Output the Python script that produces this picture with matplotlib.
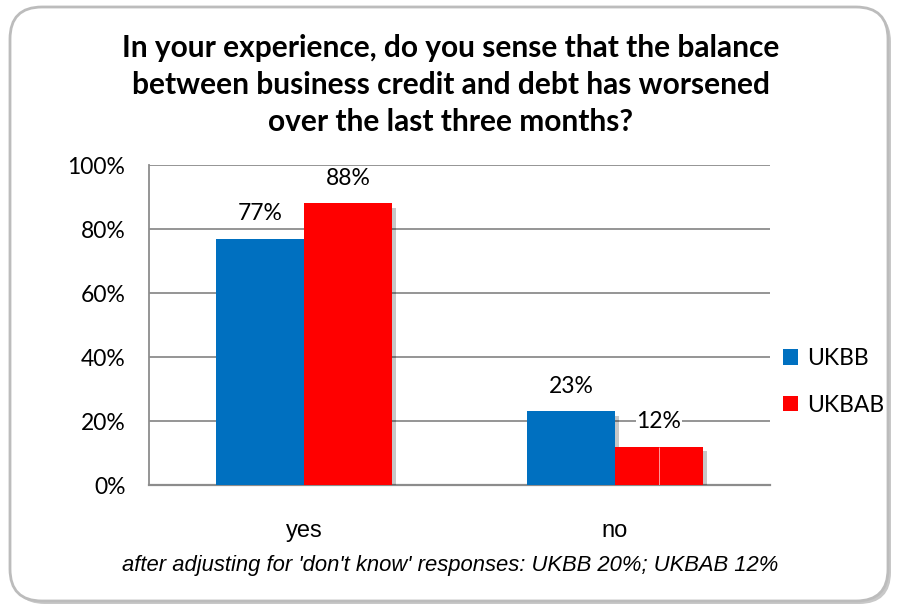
import numpy as np
import matplotlib.pyplot as plt
import matplotlib.patheffects as pe
from matplotlib.patches import FancyBboxPatch, Rectangle

categories = ['yes', 'no']
series = ['UKBB', 'UKBAB']
ukbb = [77, 23]
ukbab = [88, 12]
colors = ['#0070C0', '#FF0000']
yticks = [0, 20, 40, 60, 80, 100]

title = ("In your experience, do you sense that the balance\n"
         "between business credit and debt has worsened\n"
         "over the last three months?")
note = "after adjusting for 'don't know' responses: UKBB 20%; UKBAB 12%"

calibri = ['Lato', 'DejaVu Sans']
arial = ['Liberation Sans', 'DejaVu Sans']

W, H = 901, 610
fig = plt.figure(figsize=(W / 100, H / 100), dpi=100)

# rounded frame drawn in pixel coordinates
bg = fig.add_axes([0, 0, 1, 1])
bg.set_xlim(0, W)
bg.set_ylim(H, 0)
bg.axis('off')
bg.add_patch(FancyBboxPatch((13, 10), 878, 594, boxstyle='round,pad=0,rounding_size=32',
                            fc='#c8c8c8', ec='none'))
bg.add_patch(FancyBboxPatch((10, 7), 878, 594, boxstyle='round,pad=0,rounding_size=32',
                            fc='white', ec='#bcbcbc', lw=2))

ax = fig.add_axes([149 / W, 1 - 485 / H, (770 - 149) / W, (485 - 165) / H])
ax.set_facecolor('none')

x = np.arange(len(categories))
w = 0.283
shadow = [pe.SimplePatchShadow(offset=(3, -3), shadow_rgbFace='k', alpha=0.22), pe.Normal()]
for vals, off, col, name in [(ukbb, -w / 2, colors[0], series[0]),
                             (ukbab, w / 2, colors[1], series[1])]:
    bars = ax.bar(x + off, vals, width=w, color=col, zorder=3, label=name)
    for b, v in zip(bars, vals):
        b.set_path_effects(shadow)
        ax.annotate(f'{v}%', (b.get_x() + b.get_width() / 2, v), xytext=(0, 18),
                    textcoords='offset points', ha='center', va='center',
                    fontsize=16.5, family=calibri, zorder=4,
                    bbox=dict(fc='white', ec='none', pad=0.5))

# faint seam inside the red "no" bar
ax.vlines(x[1] + w / 2, 0, ukbab[1], color='white', lw=0.6, alpha=0.7, zorder=3.5)

ax.set_xlim(-0.5, 1.5)
ax.set_ylim(0, 100)
ax.set_yticks(yticks)
ax.set_yticklabels([f'{t}%' for t in yticks], family=calibri, fontsize=16.5)
ax.set_xticks(x)
ax.set_xticklabels(categories, family=arial, fontsize=17)
ax.tick_params(axis='y', length=0, pad=17)
ax.tick_params(axis='x', length=0, pad=25)
ax.yaxis.grid(True, color='#8c8c8c', lw=1.3, zorder=0)
ax.set_axisbelow(True)
for s in ['top', 'right']:
    ax.spines[s].set_visible(False)
ax.spines['left'].set_color('#8c8c8c')
ax.spines['bottom'].set_color('#8c8c8c')
ax.spines['left'].set_linewidth(1.3)
ax.spines['bottom'].set_linewidth(1.6)

handles = [Rectangle((0, 0), 1, 1, fc=c, ec='none') for c in colors]
fig.legend(handles, series, loc='center left', bbox_to_anchor=(762 / W, 1 - 382 / H),
           frameon=False, handlelength=0.65, handleheight=0.65, handletextpad=0.4,
           labelspacing=1.12, prop={'family': calibri, 'size': 16.5})

fig.text(0.5, 1 - 85 / H, title, ha='center', va='center', fontsize=21.5,
         fontweight='bold', family=calibri, linespacing=1.4)
fig.text(0.5, 1 - 566 / H, note, ha='center', va='center', fontsize=15.8,
         style='italic', family=arial)

fig.savefig('out.png', dpi=100)
